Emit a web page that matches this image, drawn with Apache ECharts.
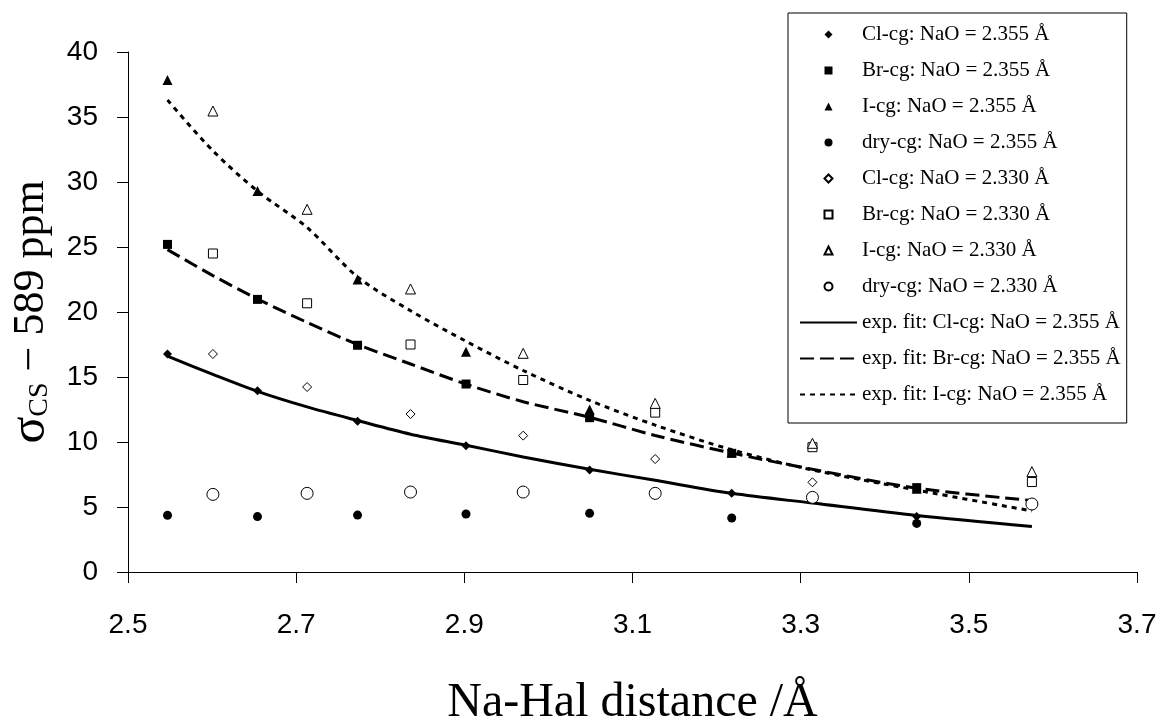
<!DOCTYPE html>
<html><head><meta charset="utf-8">
<script src="https://cdn.jsdelivr.net/npm/echarts@6/dist/echarts.min.js"></script>
<style>html,body{margin:0;padding:0;background:#fff}#c{width:1162px;height:726px}</style>
</head><body><div id="c"></div>
<script>
// x positions (Na-Hal distance / Å)
const xFilled = [2.547, 2.654, 2.773, 2.902, 3.049, 3.218, 3.438];
const xOpen   = [2.601, 2.713, 2.836, 2.970, 3.127, 3.314, 3.575];
// NaO = 2.355 Å (filled markers)
const clA  = [16.77, 13.95, 11.6, 9.72, 7.85, 6.05, 4.26];
const brA  = [25.2, 20.97, 17.44, 14.46, 11.87, 9.13, 6.49];
const iA   = [37.85, 29.3, 22.5, 16.95, 12.5, 9.2, 6.4];
const dryA = [4.36, 4.26, 4.38, 4.46, 4.51, 4.15, 3.74];
// NaO = 2.330 Å (open markers)
const clB  = [16.77, 14.23, 12.15, 10.49, 8.69, 6.9, 5.08];
const brB  = [24.5, 20.67, 17.5, 14.77, 12.26, 9.6, 6.92];
const iB   = [35.46, 27.9, 21.77, 16.82, 12.97, 9.9, 7.72];
const dryB = [5.97, 6.05, 6.15, 6.15, 6.05, 5.74, 5.23];
// exponential fit curves
const xFit  = [2.547, 2.601, 2.654, 2.713, 2.773, 2.836, 2.902, 2.970, 3.049, 3.127, 3.218, 3.314, 3.438, 3.575];
const clFit = [16.6, 15.2, 13.9, 12.7, 11.65, 10.6, 9.75, 8.85, 7.9, 7.05, 6.05, 5.3, 4.35, 3.5];
const brFit = [24.8, 22.8, 21.0, 19.2, 17.5, 16.0, 14.45, 13.1, 11.9, 10.5, 9.15, 7.9, 6.45, 5.5];
const iFit  = [36.3, 32.4, 29.3, 26.5, 22.7, 20.1, 17.75, 15.5, 13.2, 11.3, 9.4, 7.85, 6.3, 4.7];
// tick settings
const xTicks = {min: 2.5, max: 3.7, step: 0.2};
const yTicks = {min: 0, max: 40, step: 5};

const SYM = {
  diamond: 'path://M0,-1L1,0L0,1L-1,0Z',
  square: 'path://M0,0L1,0L1,1L0,1Z',
  triangle: 'path://M0,-1L1,1L-1,1Z',
  circle: 'path://M1,0A1,1,0,1,1,-1,0A1,1,0,1,1,1,0Z'
};
const zip = (xs, ys) => xs.map((x, i) => [x, ys[i]]);
const filled = {color: '#000', opacity: 1};
const hollow = {color: '#fff', borderColor: '#000', borderWidth: 1, opacity: 1};
function sc(name, xs, ys, symbol, size, style) {
  return {name, type: 'scatter', data: zip(xs, ys), symbol: SYM[symbol], symbolSize: size,
          symbolKeepAspect: true, itemStyle: style, z: 3, silent: true};
}
function fit(name, ys, type) {
  return {name, type: 'line', data: zip(xFit, ys), symbol: 'none', showSymbol: false,
          smooth: 0.3, lineStyle: {color: '#000', width: 3, type}, itemStyle: {color: '#000'}, z: 2, silent: true};
}
const series = [
  sc('Cl-cg: NaO = 2.355 Å', xFilled, clA, 'diamond', 9, filled),
  sc('Br-cg: NaO = 2.355 Å', xFilled, brA, 'square', 9, filled),
  sc('I-cg: NaO = 2.355 Å', xFilled, iA, 'triangle', 10, filled),
  sc('dry-cg: NaO = 2.355 Å', xFilled, dryA, 'circle', 9, filled),
  sc('Cl-cg: NaO = 2.330 Å', xOpen, clB, 'diamond', 9, hollow),
  sc('Br-cg: NaO = 2.330 Å', xOpen, brB, 'square', 9, hollow),
  sc('I-cg: NaO = 2.330 Å', xOpen, iB, 'triangle', 10, hollow),
  sc('dry-cg: NaO = 2.330 Å', xOpen, dryB, 'circle', 12, hollow),
  fit('exp. fit: Cl-cg: NaO = 2.355 Å', clFit, 'solid'),
  fit('exp. fit: Br-cg: NaO = 2.355 Å', brFit, [14, 6]),
  fit('exp. fit: I-cg: NaO = 2.355 Å', iFit, [5, 5])
];
const legendData = series.map(s => s.type === 'line'
  ? {name: s.name, itemStyle: {opacity: 0, color: 'rgba(0,0,0,0)', borderWidth: 0}}
  : {name: s.name});

const chart = echarts.init(document.getElementById('c'), null, {renderer: 'canvas'});
chart.setOption({
  animation: false,
  backgroundColor: '#fff',
  grid: {left: 128, right: 25, top: 52, bottom: 154, containLabel: false, outerBoundsMode: 'none'},
  legend: {
    orient: 'vertical', left: 788, top: 13,
    padding: [11, 6, 18, 11], borderColor: '#000', borderWidth: 1,
    itemWidth: 57, itemHeight: 8, itemGap: 15, symbolKeepAspect: true,
    textStyle: {fontFamily: 'Liberation Serif', fontSize: 21, lineHeight: 21, color: '#000'},
    data: legendData
  },
  xAxis: {
    type: 'value', min: xTicks.min, max: xTicks.max, interval: xTicks.step,
    axisLine: {show: true, lineStyle: {color: '#000', width: 1}},
    axisTick: {show: true, length: 11, lineStyle: {color: '#000'}},
    axisLabel: {margin: 39, fontFamily: 'Liberation Sans', fontSize: 28, color: '#000',
                formatter: v => v.toFixed(1)},
    splitLine: {show: false},
    name: 'Na-Hal distance /Å', nameLocation: 'middle', nameGap: 107,
    nameTextStyle: {fontFamily: 'Liberation Serif', fontSize: 48, color: '#000'}
  },
  yAxis: {
    type: 'value', min: yTicks.min, max: yTicks.max, interval: yTicks.step,
    axisLine: {show: true, lineStyle: {color: '#000', width: 1}},
    axisTick: {show: true, length: 11, lineStyle: {color: '#000'}},
    axisLabel: {margin: 30, fontFamily: 'Liberation Sans', fontSize: 28, color: '#000'},
    splitLine: {show: false},
    name: '{s|σ}{sub|CS}{n| − 589 ppm}', nameLocation: 'middle', nameRotate: 90, nameGap: 69,
    nameTextStyle: {
      fontFamily: 'Liberation Serif', fontSize: 44, color: '#000',
      rich: {
        s: {fontFamily: 'Liberation Serif', fontSize: 50, color: '#000'},
        sub: {fontFamily: 'Liberation Serif', fontSize: 28, color: '#000', padding: [18, 0, 0, 0]},
        n: {fontFamily: 'Liberation Serif', fontSize: 44, color: '#000'}
      }
    }
  },
  series
});
</script></body></html>
